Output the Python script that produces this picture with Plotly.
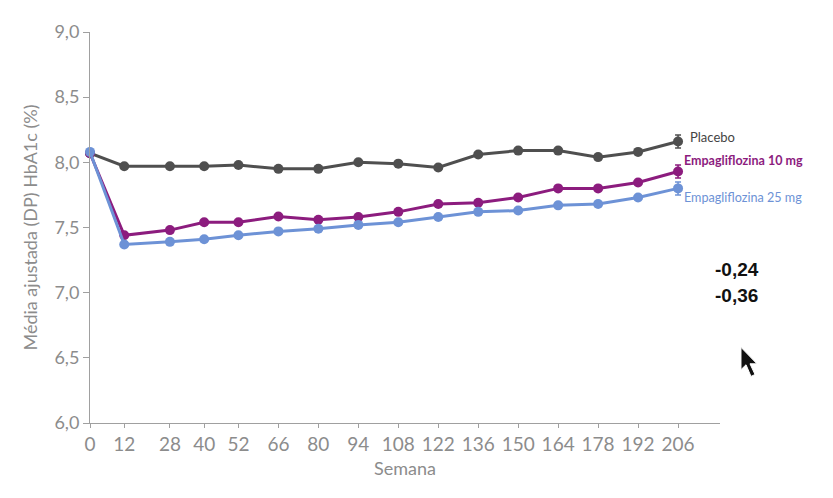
import plotly.graph_objects as go

weeks = [0, 12, 28, 40, 52, 66, 80, 94, 108, 122, 136, 150, 164, 178, 192, 206]
placebo = [8.07, 7.97, 7.97, 7.97, 7.98, 7.95, 7.95, 8.00, 7.99, 7.96, 8.06, 8.09, 8.09, 8.04, 8.08, 8.16]
empa10 = [8.07, 7.44, 7.48, 7.54, 7.54, 7.585, 7.56, 7.58, 7.62, 7.68, 7.69, 7.73, 7.80, 7.80, 7.845, 7.93]
empa25 = [8.08, 7.37, 7.39, 7.41, 7.44, 7.47, 7.49, 7.52, 7.54, 7.58, 7.62, 7.63, 7.67, 7.68, 7.73, 7.80]
last_err = [0.05, 0.05, 0.05]
series_names = ["Placebo", "Empagliflozina 10 mg", "Empagliflozina 25 mg"]
diffs = ["-0,24", "-0,36"]
yticks = [6.0, 6.5, 7.0, 7.5, 8.0, 8.5, 9.0]
ytick_text = ["6,0", "6,5", "7,0", "7,5", "8,0", "8,5", "9,0"]

colors = ["#4f4f4f", "#8c1c7e", "#6d92d6"]
font_family = "Lato, 'Open Sans', sans-serif"
gray = "#8c8c8c"

fig = go.Figure()
for name, vals, col, err in zip(series_names, [placebo, empa10, empa25], colors, last_err):
    errs = [0] * (len(vals) - 1) + [err]
    fig.add_trace(go.Scatter(
        x=weeks, y=vals, mode="lines+markers", name=name,
        line=dict(color=col, width=3),
        marker=dict(color=col, size=10),
        error_y=dict(type="data", array=errs, color=col, thickness=1.5, width=3, visible=True),
        cliponaxis=False,
    ))

# end-of-line labels
fig.add_annotation(xref="paper", x=0.949, y=8.196, text="Placebo", showarrow=False,
                   xanchor="left", font=dict(color="#444444", size=13, family=font_family))
fig.add_annotation(xref="paper", x=0.94, y=8.017, text="<b>Empagliflozina 10 mg</b>", showarrow=False,
                   xanchor="left", font=dict(color=colors[1], size=12.5, family=font_family))
fig.add_annotation(xref="paper", x=0.94, y=7.734, text="Empagliflozina 25 mg", showarrow=False,
                   xanchor="left", font=dict(color=colors[2], size=12.6, family=font_family))

bold_font = dict(color="#111111", size=19, family="'Liberation Sans', Arial, sans-serif")
fig.add_annotation(xref="paper", x=0.989, y=7.176, text="<b>" + diffs[0] + "</b>", showarrow=False,
                   xanchor="left", font=bold_font)
fig.add_annotation(xref="paper", x=0.989, y=6.975, text="<b>" + diffs[1] + "</b>", showarrow=False,
                   xanchor="left", font=bold_font)

# mouse cursor decoration (pixel outline converted to paper coords)
def px(X):
    return (X - 90) / 630.0
def py(Y):
    return (423 - Y) / 403.0
cursor = [(741, 345), (741, 368), (746, 363), (751, 375), (755, 373), (750, 362), (757, 362)]
path = "M " + " L ".join(f"{px(a):.4f},{py(b):.4f}" for a, b in cursor) + " Z"
fig.add_shape(type="path", xref="paper", yref="paper", path=path,
              fillcolor="#111111", line=dict(color="#ffffff", width=1))

fig.update_layout(
    width=833, height=498,
    margin=dict(l=82, r=121, t=12, b=83),
    paper_bgcolor="white", plot_bgcolor="white",
    showlegend=False,
    font=dict(family=font_family, color=gray, size=18),
    xaxis=dict(
        range=[0, 220.7], tickvals=weeks, showgrid=False, zeroline=False,
        showline=True, linecolor="#a0a0a0", linewidth=1,
        ticks="outside", ticklen=4, tickcolor="#a0a0a0",
        tickfont=dict(size=19, color=gray),
        title=dict(text="Semana", font=dict(size=18, color=gray), standoff=8),
    ),
    yaxis=dict(
        range=[6, 9], tickvals=yticks, ticktext=ytick_text, showgrid=False, zeroline=False,
        showline=True, linecolor="#a0a0a0", linewidth=1,
        ticks="outside", ticklen=6, tickcolor="#a0a0a0",
        tickfont=dict(size=18, color=gray),
        title=dict(text="Média ajustada (DP) HbA1c (%)", font=dict(size=18, color=gray), standoff=12),
    ),
)

fig.write_html("out.html")
